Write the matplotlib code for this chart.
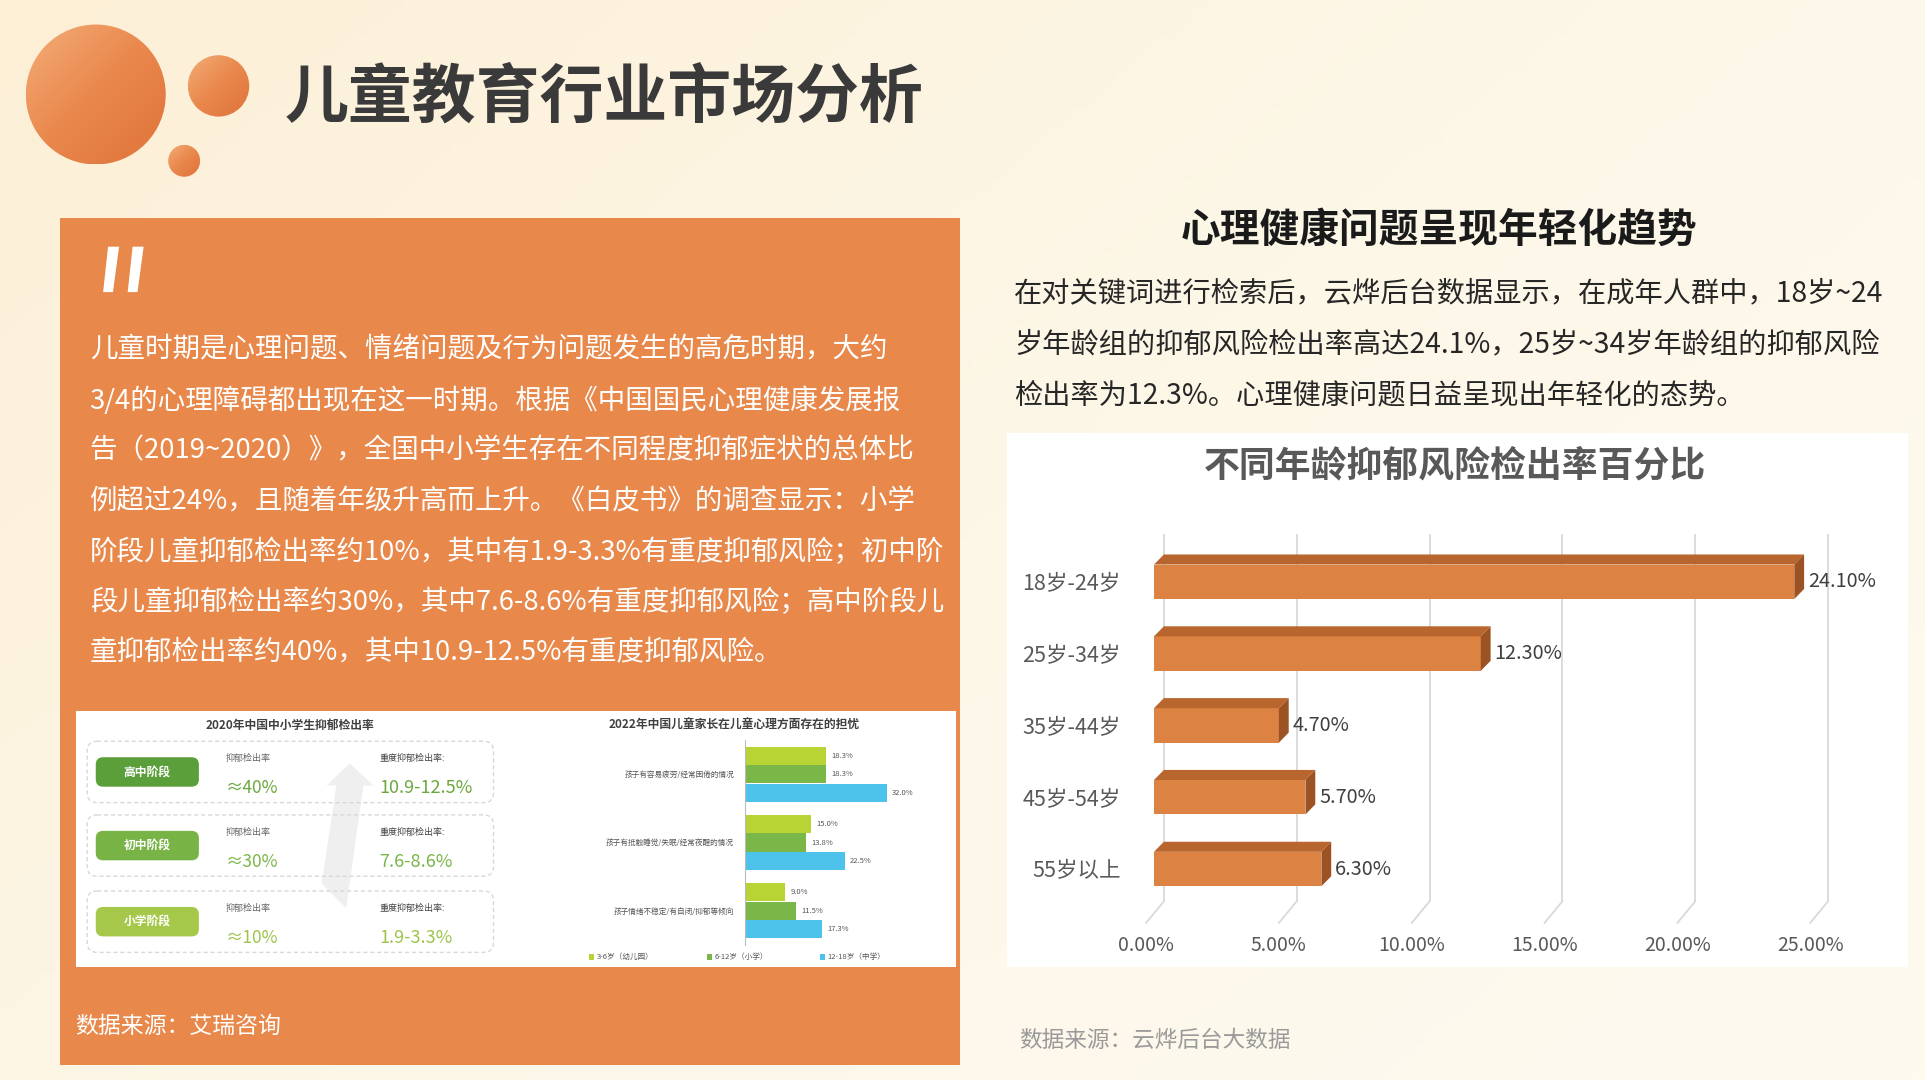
import matplotlib
matplotlib.use("Agg")
import matplotlib.pyplot as plt
import numpy as np
from matplotlib.patches import Circle, Rectangle, FancyBboxPatch, Polygon
from matplotlib.colors import LinearSegmentedColormap
from matplotlib.transforms import ScaledTranslation

plt.rcParams['font.family'] = ['Noto Sans CJK SC', 'DejaVu Sans']

# ---------------- data ----------------
age_groups = ["18岁-24岁", "25岁-34岁", "35岁-44岁", "45岁-54岁", "55岁以上"]
age_rates = [24.1, 12.3, 4.7, 5.7, 6.3]
age_ticks = [0, 5, 10, 15, 20, 25]

stages = ["高中阶段", "初中阶段", "小学阶段"]
stage_rates = ["≈40%", "≈30%", "≈10%"]
stage_severe = ["10.9-12.5%", "7.6-8.6%", "1.9-3.3%"]

worry_items = ["孩子有容易疲劳/经常困倦的情况", "孩子有抵触睡觉/失眠/经常夜醒的情况", "孩子情绪不稳定/有自闭/抑郁等倾向"]
worry_series = ["3-6岁（幼儿园）", "6-12岁（小学）", "12-18岁（中学）"]
worry_values = [[18.3, 15.0, 9.0], [18.3, 13.8, 11.5], [32.0, 22.5, 17.3]]

left_text = [
    "儿童时期是心理问题、情绪问题及行为问题发生的高危时期，大约",
    "3/4的心理障碍都出现在这一时期。根据《中国国民心理健康发展报",
    "告（2019~2020）》，全国中小学生存在不同程度抑郁症状的总体比",
    "例超过24%，且随着年级升高而上升。《白皮书》的调查显示：小学",
    "阶段儿童抑郁检出率约10%，其中有1.9-3.3%有重度抑郁风险；初中阶",
    "段儿童抑郁检出率约30%，其中7.6-8.6%有重度抑郁风险；高中阶段儿",
    "童抑郁检出率约40%，其中10.9-12.5%有重度抑郁风险。",
]
right_text = [
    "在对关键词进行检索后，云烨后台数据显示，在成年人群中，18岁~24",
    "岁年龄组的抑郁风险检出率高达24.1%，25岁~34岁年龄组的抑郁风险",
    "检出率为12.3%。心理健康问题日益呈现出年轻化的态势。",
]

W, H = 1568.0, 880.0
def box(x0, y0, x1, y1):
    return [x0 / W, 1 - y1 / H, (x1 - x0) / W, (y1 - y0) / H]

fig = plt.figure(figsize=(19.25, 10.8), dpi=100)
ax0 = fig.add_axes([0, 0, 1, 1], zorder=0)
ax0.set_xlim(0, W); ax0.set_ylim(H, 0); ax0.axis('off')

bg = LinearSegmentedColormap.from_list("bg", ["#fcefd6", "#fdf7e8", "#fefaf0"])
gx, gy = np.meshgrid(np.linspace(0, 1, 200), np.linspace(0, 1, 120))
ax0.imshow(gx * 0.6 + gy * 0.4, cmap=bg, extent=[0, W, H, 0], aspect='auto', zorder=0)

cc = LinearSegmentedColormap.from_list("cc", ["#f4ad78", "#e9874c", "#df733a"])
for cx, cy, r in [(78, 77, 57), (178, 70, 25), (150, 131, 13)]:
    im = ax0.imshow(gx * 0.5 + gy * 0.5, cmap=cc, extent=[cx - r, cx + r, cy + r, cy - r],
                    aspect='auto', zorder=1)
    c = Circle((cx, cy), r, transform=ax0.transData, facecolor='none', edgecolor='none')
    ax0.add_patch(c)
    im.set_clip_path(c)

ax0.text(232, 80, "儿童教育行业市场分析", fontsize=46, fontweight='bold', color='#3a3a3a',
         va='center', ha='left', zorder=3)

ax0.add_patch(Rectangle((49, 178), 733, 690, facecolor='#e8884b', edgecolor='none', zorder=2))
for qx in (84, 104):
    ax0.add_patch(Polygon([(qx + 4, 201), (qx + 13, 201), (qx + 8, 238), (qx, 238)],
                          closed=True, facecolor='white', edgecolor='none', zorder=3))
for i, line in enumerate(left_text):
    ax0.text(73, 285 + i * 41.2, line, fontsize=19.8, color='white', va='center', ha='left', zorder=3)
ax0.add_patch(Rectangle((62, 579), 717, 209, facecolor='white', edgecolor='none', zorder=2))
ax0.text(61, 836, "数据来源：艾瑞咨询", fontsize=16.5, color='white', va='center', ha='left', zorder=3)

ax0.text(236, 591, "2020年中国中小学生抑郁检出率", fontsize=8.5, fontweight='bold', color='#404040',
         ha='center', va='center', zorder=3)
pill_cols = ['#5b9f3b', '#78b345', '#a6c84a']
val_cols = ['#6aa83e', '#7ab648', '#9cc44a']
rows_y = [629, 689, 751]
ax0.add_patch(Polygon([(262, 720), (274, 640), (266, 640), (285, 622), (304, 640), (296, 640), (282, 740)],
                      closed=True, facecolor='#efefef', edgecolor='none', zorder=3))
for i, yy in enumerate(rows_y):
    ax0.add_patch(FancyBboxPatch((71, yy - 25), 331, 50, boxstyle="round,pad=0,rounding_size=8",
                                 facecolor='none', edgecolor='#d8d8d8', linestyle=(0, (3, 2)), lw=1.0, zorder=3))
    ax0.add_patch(FancyBboxPatch((78, yy - 12), 84, 24, boxstyle="round,pad=0,rounding_size=6",
                                 facecolor=pill_cols[i], edgecolor='none', zorder=4))
    ax0.text(120, yy, stages[i], fontsize=8.5, color='white', fontweight='bold', ha='center', va='center', zorder=5)
    ax0.text(184, yy - 11, "抑郁检出率", fontsize=6.5, color='#666666', ha='left', va='center', zorder=5)
    ax0.text(184, yy + 13, stage_rates[i], fontsize=12.5, color=val_cols[i], ha='left', va='center', zorder=5)
    ax0.text(309, yy - 11, "重度抑郁检出率:", fontsize=6.5, color='#444444', ha='left', va='center', zorder=5)
    ax0.text(309, yy + 13, stage_severe[i], fontsize=13, color=val_cols[i], ha='left', va='center', zorder=5)

ax0.text(598, 591, "2022年中国儿童家长在儿童心理方面存在的担忧", fontsize=8.5, fontweight='bold',
         color='#404040', ha='center', va='center', zorder=3)
axm = fig.add_axes(box(607, 603, 779, 770), zorder=4)
axm.patch.set_alpha(0)
wcols = ['#b7d334', '#7ab648', '#4dc3ec']
bh = 0.27
n = len(worry_items)
for s in range(3):
    ys = [g + (s - 1) * bh for g in range(n)]
    axm.barh(ys, worry_values[s], height=bh * 0.98, color=wcols[s])
    for yv, v in zip(ys, worry_values[s]):
        axm.text(v + 1.2, yv, f"{v:.1f}%", fontsize=5.5, color='#555555', va='center', ha='left')
axm.set_xlim(0, 47.8)
axm.set_ylim(n - 0.5, -0.5)
axm.set_yticks(range(n))
axm.set_yticklabels(worry_items, fontsize=5.5, color='#555555')
axm.tick_params(axis='y', length=0, pad=8)
axm.set_xticks([])
for sp in ['top', 'right', 'bottom']:
    axm.spines[sp].set_visible(False)
axm.spines['left'].set_color('#bbbbbb')
for s, (lx, lab) in enumerate(zip([480, 576, 668], worry_series)):
    ax0.add_patch(Rectangle((lx, 777), 4, 5, facecolor=wcols[s], zorder=4))
    ax0.text(lx + 6, 780, lab, fontsize=5.5, color='#555555', va='center', ha='left', zorder=5)

ax0.text(1172, 188, "心理健康问题呈现年轻化趋势", fontsize=28.6, fontweight='bold', color='#1a1a1a',
         ha='center', va='center', zorder=3)
for i, line in enumerate(right_text):
    ax0.text(826, 239 + i * 41.5, line, fontsize=20.3, color='#262626', va='center', ha='left', zorder=3)
ax0.add_patch(Rectangle((820, 353), 734, 435, facecolor='white', edgecolor='none', zorder=2))
ax0.text(1185, 380, "不同年龄抑郁风险检出率百分比", fontsize=25.8, fontweight='bold', color='#595959',
         ha='center', va='center', zorder=3)
ax0.text(830, 848, "数据来源：云烨后台大数据", fontsize=16.3, color='#9a9a9a', va='center', ha='left', zorder=3)

axb = fig.add_axes(box(940, 436, 1481, 752), zorder=4)
axb.patch.set_alpha(0)
axb.set_xlim(0, 25)
ncat = len(age_groups)
axb.set_ylim(ncat - 0.25, -0.65)
dx, dy = 0.37, 0.14
bhh = 0.48
for t in age_ticks:
    axb.plot([t + dx, t + dx], [-0.65, ncat - 0.55], color='#d9d9d9', lw=1.3, zorder=1, clip_on=False)
    axb.plot([t + dx, t - 0.3], [ncat - 0.55, ncat - 0.25], color='#d9d9d9', lw=1.3, zorder=1, clip_on=False)
for i, v in enumerate(age_rates):
    top, bot = i - bhh / 2, i + bhh / 2
    axb.barh(i, v, height=bhh, color='#dc8243', zorder=3)
    axb.add_patch(Polygon([(0, top), (dx, top - dy), (v + dx, top - dy), (v, top)],
                          facecolor='#b8652e', edgecolor='none', zorder=3))
    axb.add_patch(Polygon([(v, top), (v + dx, top - dy), (v + dx, bot - dy), (v, bot)],
                          facecolor='#9c5323', edgecolor='none', zorder=3))
    axb.text(v + dx + 0.15, i, f"{v:.2f}%", fontsize=14.3, color='#404040', va='center', ha='left', zorder=4)
axb.set_yticks(range(ncat))
axb.set_yticklabels(age_groups, fontsize=15.5, color='#595959')
axb.set_xticks(age_ticks)
axb.set_xticklabels([f"{t:.2f}%" for t in age_ticks], fontsize=14, color='#595959')
axb.tick_params(length=0)
axb.tick_params(axis='y', pad=24)
axb.tick_params(axis='x', pad=9)
off = ScaledTranslation(-8 / 100, 0, fig.dpi_scale_trans)
for lab in axb.get_xticklabels():
    lab.set_transform(lab.get_transform() + off)
for sp in axb.spines.values():
    sp.set_visible(False)

fig.savefig("out.png", dpi=100)
